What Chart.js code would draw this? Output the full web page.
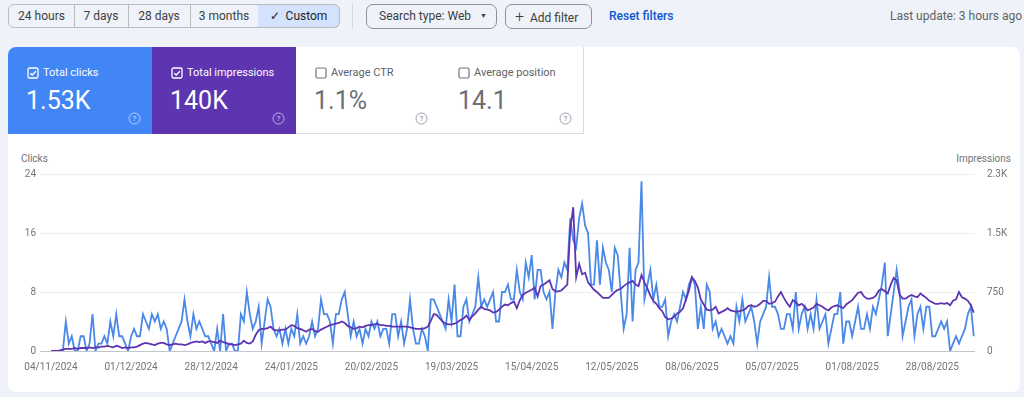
<!DOCTYPE html>
<html>
<head>
<meta charset="utf-8">
<script src="https://cdn.jsdelivr.net/npm/chart.js@4.4.1/dist/chart.umd.min.js"></script>
<style>
  html, body { margin: 0; padding: 0; }
  body { width: 1024px; height: 397px; background: #eff2f8; font-family: Roboto, "Noto Sans", Arial, sans-serif; position: relative; overflow: hidden; color: #3c4043; }
  .abs { position: absolute; }
  .seg { position: absolute; top: 4px; height: 24px; box-sizing: border-box; border: 1px solid #b8bcc1; font-size: 12px; line-height: 22px; text-align: center; color: #3c4043; }
  .btn { position: absolute; top: 4px; height: 25px; box-sizing: border-box; border: 1px solid #8e9196; border-radius: 7px; font-size: 12px; line-height: 23px; color: #3c4043; }
  .panel { position: absolute; left: 8px; top: 47px; width: 1012px; height: 345px; background: #fff; border-radius: 8px; }
  .card { position: absolute; top: 47px; height: 87px; box-sizing: border-box; }
  .card .lbl { position: absolute; left: 35px; top: 20px; font-size: 11px; line-height: 12px; }
  .card .val { position: absolute; left: 18px; top: 40px; font-size: 25px; line-height: 28px; }
  .card svg { position: absolute; }
  .axlbl { position: absolute; top: 153px; font-size: 10px; color: #70757a; }
</style>
</head>
<body>
<div class="seg" style="left:8px;width:67px;border-radius:6px 0 0 6px;">24 hours</div>
<div class="seg" style="left:74px;width:55px;border-left:none;">7 days</div>
<div class="seg" style="left:128px;width:63px;border-left:none;">28 days</div>
<div class="seg" style="left:190px;width:69px;border-left:none;">3 months</div>
<div class="seg" style="left:258px;width:82px;border-left:none;border-radius:0 6px 6px 0;background:#d3e3fd;color:#1f1f1f;">&#10003;&nbsp;&nbsp;Custom</div>
<div class="abs" style="left:352px;top:4px;width:1px;height:24px;background:#d5d8dc;"></div>
<div class="btn" style="left:366px;width:131px;padding-left:12px;">Search type: Web<span style="position:absolute;left:113px;top:0;font-size:7px;">&#9660;</span></div>
<div class="btn" style="left:505px;width:87px;padding-left:9px;"><span style="font-size:16px;font-weight:300;">+</span>&nbsp;&nbsp;Add filter</div>
<div class="abs" style="left:609px;top:9px;font-size:12px;font-weight:500;color:#0b57d0;">Reset filters</div>
<div class="abs" style="right:2px;top:9px;font-size:12px;color:#5f6368;">Last update: 3 hours ago</div>

<div class="panel"></div>

<div class="card" style="left:8px;width:144px;background:#4285f4;color:#fff;border-top-left-radius:8px;">
  <svg style="left:19px;top:20px" width="12" height="12" viewBox="0 0 12 12"><rect x="1" y="1" width="10" height="10" rx="1.5" fill="none" stroke="#fff" stroke-width="1.3"/><path d="M3.3 6.2 L5.2 8 L8.8 4.2" fill="none" stroke="#fff" stroke-width="1.3"/></svg>
  <div class="lbl">Total clicks</div>
  <div class="val">1.53K</div>
  <svg style="left:120px;top:65px" width="13" height="13" viewBox="0 0 13 13"><circle cx="6.5" cy="6.5" r="5.5" fill="none" stroke="rgba(255,255,255,0.6)" stroke-width="1"/><text x="6.5" y="9.3" font-size="8" text-anchor="middle" fill="rgba(255,255,255,0.7)" font-family="Roboto">?</text></svg>
</div>
<div class="card" style="left:152px;width:144px;background:#5e35b1;color:#fff;">
  <svg style="left:19px;top:20px" width="12" height="12" viewBox="0 0 12 12"><rect x="1" y="1" width="10" height="10" rx="1.5" fill="none" stroke="#fff" stroke-width="1.3"/><path d="M3.3 6.2 L5.2 8 L8.8 4.2" fill="none" stroke="#fff" stroke-width="1.3"/></svg>
  <div class="lbl">Total impressions</div>
  <div class="val">140K</div>
  <svg style="left:120px;top:65px" width="13" height="13" viewBox="0 0 13 13"><circle cx="6.5" cy="6.5" r="5.5" fill="none" stroke="rgba(255,255,255,0.6)" stroke-width="1"/><text x="6.5" y="9.3" font-size="8" text-anchor="middle" fill="rgba(255,255,255,0.7)" font-family="Roboto">?</text></svg>
</div>
<div class="card" style="left:296px;width:145px;background:#fff;color:#5f6368;border-right:1px solid #dadce0;border-bottom:1px solid #dadce0;">
  <svg style="left:19px;top:20px" width="12" height="12" viewBox="0 0 12 12"><rect x="1" y="1" width="10" height="10" rx="1.5" fill="none" stroke="#70757a" stroke-width="1.2"/></svg>
  <div class="lbl">Average CTR</div>
  <div class="val" style="color:#6b6f74;">1.1%</div>
  <svg style="left:119px;top:65px" width="13" height="13" viewBox="0 0 13 13"><circle cx="6.5" cy="6.5" r="5.5" fill="none" stroke="#9aa0a6" stroke-width="1"/><text x="6.5" y="9.3" font-size="8" text-anchor="middle" fill="#80868b" font-family="Roboto">?</text></svg>
</div>
<div class="card" style="left:440px;width:144px;background:#fff;color:#5f6368;border-right:1px solid #dadce0;border-bottom:1px solid #dadce0;">
  <svg style="left:18px;top:20px" width="12" height="12" viewBox="0 0 12 12"><rect x="1" y="1" width="10" height="10" rx="1.5" fill="none" stroke="#70757a" stroke-width="1.2"/></svg>
  <div class="lbl" style="left:34px;">Average position</div>
  <div class="val" style="left:18px;color:#6b6f74;">14.1</div>
  <svg style="left:119px;top:65px" width="13" height="13" viewBox="0 0 13 13"><circle cx="6.5" cy="6.5" r="5.5" fill="none" stroke="#9aa0a6" stroke-width="1"/><text x="6.5" y="9.3" font-size="8" text-anchor="middle" fill="#80868b" font-family="Roboto">?</text></svg>
</div>

<div class="axlbl" style="left:21px;">Clicks</div>
<div class="axlbl" style="right:13px;">Impressions</div>

<div class="abs" style="left:8px;top:156px;width:1012px;height:236px;">
  <canvas id="perfChart" width="1012" height="236"></canvas>
</div>

<script>
// daily clicks, 04/11/2024 .. ~10/09/2025
const clicks = [
  0,0,0,0,0,4,1,2,0,0,
  2,2,0,1,5,0,1,1,2,1,
  4,2,5,2,2,1,0,2,3,2,
  2,5,4,3,5,4,5,3,4,3,
  0,1,2,3,4,7,4,2,5,3,
  4,3,2,2,1,0,3,0,5,0,
  1,1,0,0,5,4,8,5,3,4,
  6,1,4,7,6,3,2,3,1,3,
  1,3,2,5,1,2,1,2,4,2,
  3,7,5,5,4,1,5,5,7,8,
  5,2,4,2,3,1,3,2,4,3,
  4,2,3,3,1,5,5,2,4,1,
  3,7,3,1,1,3,2,0,7,7,
  6,5,4,3,7,4,9,2,2,6,
  7,4,5,6,10,6,7,6,7,8,
  4,4,8,8,9,7,7,11,8,7,
  12,10,13,7,11,11,8,7,8,3,
  8,11,10,12,11,18,15,14,18,20,
  17,16,9,9,15,9,14,12,11,8,
  14,13,8,3,5,14,4,11,12,23,
  7,9,11,7,9,6,6,7,2,4,
  5,4,6,8,7,9,10,9,3,6,
  3,9,8,3,4,2,3,2,1,2,
  1,6,4,7,4,5,6,4,1,4,
  5,6,10,6,6,5,3,3,5,5,
  3,8,3,5,6,3,5,3,7,3,
  4,5,1,3,5,5,8,1,4,4,
  2,4,6,3,3,5,3,6,5,7,
  9,12,2,5,8,11,8,2,4,6,
  7,2,5,6,3,6,6,2,2,3,
  4,3,4,0,1,2,1,2,3,5,
  6,2
];

// daily impressions
const impressions = [
  0,0,0,9,19,28,28,28,38,28,
  38,38,38,47,38,47,47,56,56,66,
  56,47,66,56,38,47,38,47,47,56,
  75,94,103,94,84,75,94,103,103,84,
  75,84,94,84,84,75,84,103,113,122,
  113,122,103,122,122,113,103,131,113,103,
  84,84,75,84,94,131,103,94,122,206,
  263,281,281,291,309,272,263,263,272,272,
  300,328,319,291,281,263,244,272,281,253,
  244,272,291,309,328,338,347,356,375,356,
  319,300,281,291,309,300,319,328,328,338,
  347,328,328,319,319,309,309,309,309,309,
  309,300,291,281,281,281,291,309,384,469,
  459,413,375,347,338,338,347,366,394,413,
  450,394,441,478,525,563,534,525,516,488,
  497,525,563,591,581,609,628,544,647,713,
  741,759,778,806,694,825,844,872,900,788,
  759,759,769,806,844,1547,1828,938,1106,975,
  994,872,825,778,750,713,675,675,675,713,
  750,778,788,825,853,872,891,844,825,966,
  872,797,703,638,600,544,506,431,403,413,
  431,478,497,544,656,769,938,891,806,656,
  591,525,516,525,563,478,497,516,544,516,
  506,497,506,516,534,572,581,563,572,600,
  638,638,600,609,628,694,750,675,609,563,
  647,619,581,600,563,516,534,553,600,581,
  563,534,516,553,572,581,563,544,591,619,
  647,694,741,750,694,666,666,675,703,769,
  788,759,731,844,928,900,713,666,666,694,
  713,694,684,731,703,675,638,619,600,600,
  609,600,609,581,638,656,750,684,666,638,
  581,488
];

// x axis: day index of each date label
const dateTickDays = [0, 27, 54, 81, 108, 135, 162, 189, 216, 243, 270, 297];
const dateTickLabels = ['04/11/2024', '01/12/2024', '28/12/2024', '24/01/2025', '20/02/2025', '19/03/2025',
  '15/04/2025', '12/05/2025', '08/06/2025', '05/07/2025', '01/08/2025', '28/08/2025'];

const clickTicks = [0, 8, 16, 24];
const imprTicks = [0, 750, 1500, 2250];
const imprTickLabels = ['0', '750', '1.5K', '2.3K'];

const tickFont = { family: 'Roboto', size: 10 };
const tickColor = '#70757a';

const ctx = document.getElementById('perfChart').getContext('2d');
new Chart(ctx, {
  type: 'line',
  data: {
    datasets: [{
      label: 'Impressions',
      data: impressions.map((v, i) => ({ x: i, y: v })),
      yAxisID: 'yImpr',
      borderColor: '#5e35b1',
      borderWidth: 1.8,
      pointRadius: 0,
      tension: 0,
      order: 1
    }, {
      label: 'Clicks',
      data: clicks.map((v, i) => ({ x: i, y: v })),
      yAxisID: 'yClicks',
      borderColor: '#4a89e8',
      borderWidth: 1.8,
      pointRadius: 0,
      tension: 0,
      order: 2
    }]
  },
  options: {
    responsive: false,
    animation: false,
    devicePixelRatio: 1,
    layout: { padding: { top: 9, bottom: 11, left: 0, right: 0 } },
    plugins: { legend: { display: false }, tooltip: { enabled: false } },
    scales: {
      x: {
        type: 'linear',
        min: -3.7,
        max: 311.4,
        grid: { display: false, drawTicks: false },
        border: { display: false },
        afterBuildTicks: scale => { scale.ticks = dateTickDays.map(v => ({ value: v })); },
        afterFit: scale => { scale.height = 30; },
        ticks: {
          autoSkip: false,
          maxRotation: 0,
          padding: 10,
          color: tickColor,
          font: tickFont,
          callback: (value, index) => dateTickLabels[index]
        }
      },
      yClicks: {
        position: 'left',
        min: 0,
        max: 24,
        afterBuildTicks: scale => { scale.ticks = clickTicks.map(v => ({ value: v })); },
        afterFit: scale => { scale.width = 32; },
        grid: {
          drawTicks: false,
          lineWidth: 1,
          color: c => (c.tick && c.tick.value === 0) ? '#c2c5c9' : '#eceef1'
        },
        border: { display: false },
        ticks: { padding: 4, color: tickColor, font: tickFont }
      },
      yImpr: {
        position: 'right',
        min: 0,
        max: 2250,
        afterBuildTicks: scale => { scale.ticks = imprTicks.map(v => ({ value: v })); },
        afterFit: scale => { scale.width = 45; },
        grid: { display: false, drawTicks: false },
        border: { display: false },
        ticks: {
          padding: 12,
          color: tickColor,
          font: tickFont,
          callback: (value, index) => imprTickLabels[index]
        }
      }
    }
  }
});
</script>
</body>
</html>
